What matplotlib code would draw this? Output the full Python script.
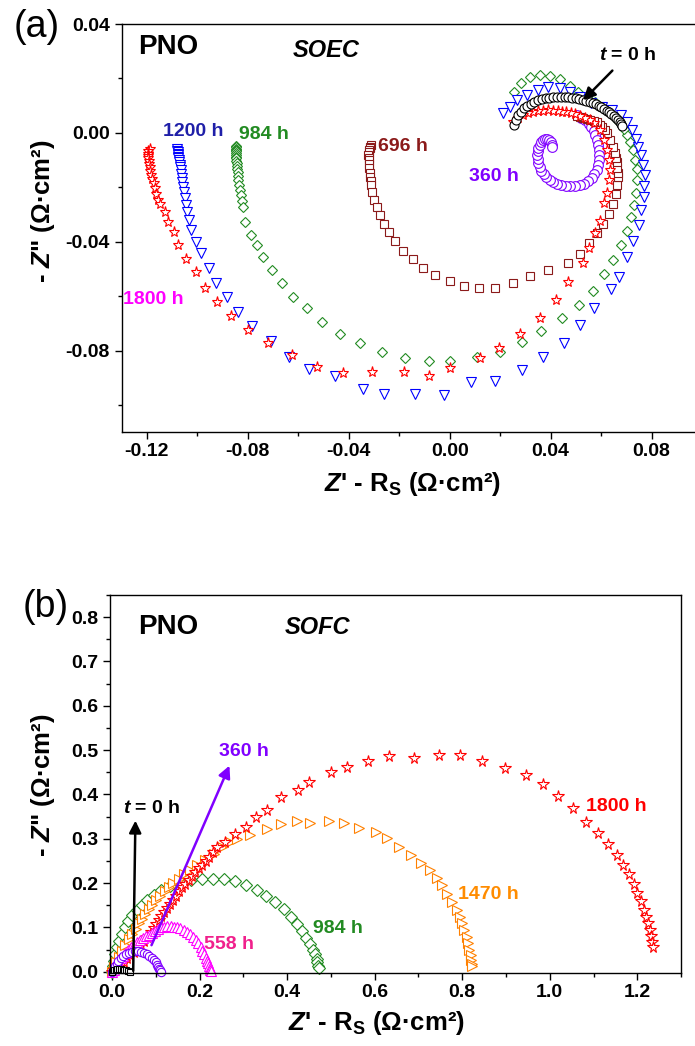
import numpy as np
import matplotlib
matplotlib.use("Agg")
import matplotlib.pyplot as plt
from matplotlib.ticker import MultipleLocator, FormatStrFormatter

plt.rcParams['font.family'] = ['Liberation Sans', 'DejaVu Sans']
plt.rcParams['font.weight'] = 'bold'
plt.rcParams['mathtext.fontset'] = 'custom'
plt.rcParams['mathtext.rm'] = 'Liberation Sans:bold'
plt.rcParams['mathtext.it'] = 'Liberation Sans:italic:bold'
plt.rcParams['mathtext.bf'] = 'Liberation Sans:bold'

# ---------------- (a) SOEC data : (Z' - Rs, -Z'') ----------------
a_t0 = np.array([
    (0.0253, 0.0028), (0.0262, 0.0048), (0.0272, 0.0064), (0.0283, 0.0078), (0.0295, 0.0090),
    (0.0308, 0.0100), (0.0322, 0.0108), (0.0336, 0.0115), (0.0350, 0.0120), (0.0365, 0.0124),
    (0.0380, 0.0127), (0.0395, 0.0130), (0.0410, 0.0131), (0.0425, 0.0132), (0.0440, 0.0132),
    (0.0455, 0.0132), (0.0470, 0.0131), (0.0485, 0.0130), (0.0500, 0.0128), (0.0514, 0.0125),
    (0.0528, 0.0122), (0.0541, 0.0118), (0.0554, 0.0114), (0.0566, 0.0110), (0.0578, 0.0105),
    (0.0590, 0.0100), (0.0601, 0.0094), (0.0612, 0.0088), (0.0622, 0.0082), (0.0632, 0.0075),
    (0.0641, 0.0068), (0.0650, 0.0061), (0.0658, 0.0054), (0.0666, 0.0047), (0.0673, 0.0040),
    (0.0679, 0.0032), (0.0683, 0.0025)])

a_360 = np.array([
    (0.0506, 0.0065), (0.0522, 0.0056), (0.0537, 0.0046), (0.0550, 0.0034), (0.0561, 0.0021),
    (0.0570, 0.0007), (0.0577, -0.0008), (0.0584, -0.0026), (0.0589, -0.0045), (0.0592, -0.0063),
    (0.0593, -0.0082), (0.0592, -0.0100), (0.0589, -0.0118), (0.0582, -0.0135), (0.0573, -0.0151),
    (0.0562, -0.0165), (0.0549, -0.0177), (0.0534, -0.0186), (0.0517, -0.0192), (0.0498, -0.0195),
    (0.0478, -0.0196), (0.0460, -0.0195), (0.0442, -0.0192), (0.0426, -0.0187), (0.0411, -0.0181),
    (0.0396, -0.0173), (0.0383, -0.0163), (0.0372, -0.0152), (0.0363, -0.0141), (0.0356, -0.0126),
    (0.0351, -0.0111), (0.0348, -0.0097), (0.0347, -0.0082), (0.0348, -0.0068), (0.0351, -0.0056),
    (0.0356, -0.0044), (0.0363, -0.0034), (0.0371, -0.0027), (0.0379, -0.0023), (0.0387, -0.0022),
    (0.0395, -0.0027), (0.0401, -0.0034), (0.0405, -0.0043), (0.0407, -0.0052)])

a_696 = np.array([
    (-0.0311, -0.0045), (-0.0314, -0.0050), (-0.0317, -0.0056), (-0.0320, -0.0063), (-0.0321, -0.0072),
    (-0.0322, -0.0082), (-0.0321, -0.0091), (-0.0321, -0.0100), (-0.0320, -0.0115), (-0.0319, -0.0130),
    (-0.0317, -0.0146), (-0.0316, -0.0161), (-0.0313, -0.0177), (-0.0311, -0.0192), (-0.0308, -0.0218),
    (-0.0301, -0.0247), (-0.0290, -0.0272), (-0.0277, -0.0302), (-0.0261, -0.0333), (-0.0242, -0.0363),
    (-0.0215, -0.0397), (-0.0185, -0.0433), (-0.0145, -0.0465), (-0.0105, -0.0495), (-0.0057, -0.0522),
    (0.0000, -0.0544), (0.0058, -0.0562), (0.0118, -0.0570), (0.0181, -0.0571), (0.0252, -0.0552),
    (0.0320, -0.0526), (0.0391, -0.0504), (0.0470, -0.0478), (0.0517, -0.0445), (0.0553, -0.0405),
    (0.0585, -0.0368), (0.0609, -0.0335), (0.0632, -0.0298), (0.0648, -0.0262), (0.0660, -0.0225),
    (0.0664, -0.0192), (0.0668, -0.0163), (0.0666, -0.0146), (0.0664, -0.0130), (0.0664, -0.0108),
    (0.0660, -0.0092), (0.0656, -0.0075), (0.0648, -0.0052), (0.0636, -0.0027), (0.0624, -0.0001),
    (0.0614, 0.0010), (0.0604, 0.0021), (0.0594, 0.0030), (0.0585, 0.0039), (0.0571, 0.0043),
    (0.0557, 0.0047), (0.0543, 0.0051), (0.0529, 0.0054), (0.0515, 0.0058), (0.0505, 0.0061)])

a_984 = np.array([
    (-0.0846, -0.0048), (-0.0847, -0.0053), (-0.0847, -0.0058), (-0.0847, -0.0063), (-0.0847, -0.0068),
    (-0.0846, -0.0074), (-0.0846, -0.0080), (-0.0845, -0.0087), (-0.0845, -0.0094), (-0.0845, -0.0102),
    (-0.0844, -0.0111), (-0.0843, -0.0121), (-0.0842, -0.0132), (-0.0840, -0.0145), (-0.0839, -0.0159),
    (-0.0837, -0.0174), (-0.0835, -0.0190), (-0.0832, -0.0208), (-0.0828, -0.0228), (-0.0824, -0.0250),
    (-0.0818, -0.0274), (-0.0813, -0.0326), (-0.0786, -0.0375), (-0.0765, -0.0412), (-0.0739, -0.0457),
    (-0.0703, -0.0504), (-0.0664, -0.0551), (-0.0620, -0.0602), (-0.0567, -0.0644), (-0.0505, -0.0696),
    (-0.0436, -0.0739), (-0.0354, -0.0773), (-0.0268, -0.0806), (-0.0179, -0.0826), (-0.0083, -0.0838),
    (0.0003, -0.0838), (0.0109, -0.0822), (0.0201, -0.0804), (0.0288, -0.0768), (0.0363, -0.0728),
    (0.0445, -0.0681), (0.0511, -0.0632), (0.0566, -0.0580), (0.0610, -0.0519), (0.0649, -0.0467),
    (0.0679, -0.0412), (0.0703, -0.0360), (0.0718, -0.0308), (0.0729, -0.0265), (0.0739, -0.0222),
    (0.0744, -0.0174), (0.0742, -0.0134), (0.0735, -0.0100), (0.0726, -0.0063), (0.0716, -0.0033),
    (0.0703, -0.0008), (0.0689, 0.0016), (0.0668, 0.0043), (0.0640, 0.0069), (0.0609, 0.0091),
    (0.0577, 0.0113), (0.0545, 0.0131), (0.0510, 0.0149), (0.0478, 0.0171), (0.0438, 0.0197),
    (0.0399, 0.0210), (0.0359, 0.0212), (0.0320, 0.0204), (0.0284, 0.0182), (0.0256, 0.0149)])

a_1200 = np.array([
    (-0.1080, -0.0060), (-0.1079, -0.0066), (-0.1078, -0.0071), (-0.1077, -0.0077), (-0.1077, -0.0082),
    (-0.1076, -0.0088), (-0.1075, -0.0094), (-0.1073, -0.0100), (-0.1072, -0.0108), (-0.1070, -0.0117),
    (-0.1068, -0.0127), (-0.1066, -0.0138), (-0.1064, -0.0150), (-0.1062, -0.0164), (-0.1059, -0.0180),
    (-0.1056, -0.0198), (-0.1053, -0.0217), (-0.1049, -0.0240), (-0.1045, -0.0265), (-0.1040, -0.0290),
    (-0.1034, -0.0320), (-0.1024, -0.0357), (-0.1004, -0.0402), (-0.0984, -0.0440), (-0.0954, -0.0495),
    (-0.0925, -0.0551), (-0.0884, -0.0604), (-0.0840, -0.0657), (-0.0782, -0.0709), (-0.0710, -0.0763),
    (-0.0635, -0.0824), (-0.0558, -0.0868), (-0.0455, -0.0892), (-0.0343, -0.0941), (-0.0259, -0.0960),
    (-0.0136, -0.0960), (-0.0024, -0.0963), (0.0085, -0.0914), (0.0181, -0.0911), (0.0288, -0.0871),
    (0.0371, -0.0823), (0.0454, -0.0773), (0.0518, -0.0706), (0.0573, -0.0642), (0.0639, -0.0575),
    (0.0669, -0.0528), (0.0703, -0.0455), (0.0726, -0.0396), (0.0751, -0.0339), (0.0759, -0.0284),
    (0.0768, -0.0235), (0.0771, -0.0196), (0.0772, -0.0155), (0.0766, -0.0119), (0.0759, -0.0082),
    (0.0748, -0.0051), (0.0739, -0.0021), (0.0722, 0.0010), (0.0703, 0.0040), (0.0680, 0.0065),
    (0.0644, 0.0083), (0.0605, 0.0094), (0.0561, 0.0109), (0.0518, 0.0131), (0.0478, 0.0149),
    (0.0438, 0.0166), (0.0391, 0.0168), (0.0351, 0.0157), (0.0308, 0.0138), (0.0268, 0.0120),
    (0.0240, 0.0094), (0.0212, 0.0072)])

a_1800 = np.array([
    (-0.1189, -0.0060), (-0.1195, -0.0068), (-0.1197, -0.0076), (-0.1197, -0.0084), (-0.1195, -0.0093),
    (-0.1193, -0.0103), (-0.1191, -0.0114), (-0.1189, -0.0126), (-0.1186, -0.0139), (-0.1182, -0.0153),
    (-0.1178, -0.0168), (-0.1173, -0.0185), (-0.1168, -0.0203), (-0.1162, -0.0225), (-0.1154, -0.0245),
    (-0.1146, -0.0262), (-0.1130, -0.0290), (-0.1118, -0.0328), (-0.1094, -0.0365), (-0.1075, -0.0412),
    (-0.1043, -0.0464), (-0.1007, -0.0511), (-0.0968, -0.0570), (-0.0921, -0.0621), (-0.0865, -0.0673),
    (-0.0798, -0.0724), (-0.0719, -0.0772), (-0.0624, -0.0816), (-0.0525, -0.0860), (-0.0422, -0.0882),
    (-0.0307, -0.0878), (-0.0180, -0.0878), (-0.0084, -0.0893), (0.0003, -0.0864), (0.0121, -0.0827),
    (0.0197, -0.0790), (0.0280, -0.0739), (0.0359, -0.0680), (0.0422, -0.0614), (0.0470, -0.0548),
    (0.0529, -0.0478), (0.0553, -0.0423), (0.0577, -0.0368), (0.0597, -0.0324), (0.0613, -0.0258),
    (0.0624, -0.0221), (0.0632, -0.0174), (0.0636, -0.0137), (0.0632, -0.0100), (0.0624, -0.0063),
    (0.0613, -0.0027), (0.0597, 0.0010), (0.0573, 0.0036), (0.0555, 0.0046), (0.0537, 0.0054),
    (0.0518, 0.0062), (0.0498, 0.0069), (0.0480, 0.0073), (0.0462, 0.0076), (0.0446, 0.0078),
    (0.0430, 0.0080), (0.0410, 0.0082), (0.0391, 0.0083), (0.0371, 0.0082), (0.0351, 0.0080),
    (0.0331, 0.0077), (0.0312, 0.0072), (0.0292, 0.0064), (0.0272, 0.0054), (0.0252, 0.0039)])

# ---------------- (b) SOFC data ----------------
b_t0 = np.array([
    (0.000, 0.000), (0.004, 0.003), (0.008, 0.005), (0.012, 0.006), (0.016, 0.006), (0.020, 0.006),
    (0.024, 0.005), (0.028, 0.004), (0.032, 0.003), (0.036, 0.001), (0.040, 0.000)])

b_360 = np.array([
    (0.000, 0.000), (0.003, 0.006), (0.006, 0.012), (0.010, 0.018), (0.014, 0.024), (0.019, 0.030),
    (0.025, 0.035), (0.031, 0.039), (0.038, 0.042), (0.045, 0.045), (0.052, 0.046), (0.059, 0.046),
    (0.066, 0.045), (0.073, 0.043), (0.079, 0.040), (0.085, 0.036), (0.090, 0.031), (0.095, 0.026),
    (0.099, 0.021), (0.102, 0.016), (0.105, 0.011), (0.108, 0.007), (0.110, 0.003), (0.112, 0.000)])

b_558 = np.array([
    (0.000, 0.000), (0.003, 0.005), (0.006, 0.011), (0.010, 0.017), (0.014, 0.023), (0.019, 0.030),
    (0.024, 0.036), (0.030, 0.043), (0.036, 0.049), (0.042, 0.055), (0.049, 0.061), (0.056, 0.067),
    (0.063, 0.072), (0.070, 0.077), (0.077, 0.081), (0.084, 0.084), (0.091, 0.088), (0.098, 0.093),
    (0.105, 0.097), (0.112, 0.100), (0.119, 0.102), (0.126, 0.103), (0.134, 0.103), (0.142, 0.102),
    (0.149, 0.100), (0.156, 0.098), (0.164, 0.094), (0.171, 0.090), (0.178, 0.085), (0.185, 0.079),
    (0.191, 0.072), (0.197, 0.064), (0.202, 0.056), (0.206, 0.048), (0.210, 0.040), (0.214, 0.032),
    (0.217, 0.025), (0.219, 0.019), (0.221, 0.013), (0.223, 0.008), (0.224, 0.004), (0.225, 0.001)])

b_984 = np.array([
    (0.000, 0.000), (0.002, 0.012), (0.004, 0.025), (0.007, 0.040), (0.011, 0.056), (0.016, 0.070),
    (0.022, 0.085), (0.029, 0.100), (0.037, 0.114), (0.046, 0.127), (0.056, 0.139), (0.067, 0.151),
    (0.080, 0.162), (0.095, 0.173), (0.112, 0.184), (0.132, 0.193), (0.155, 0.200), (0.180, 0.206),
    (0.205, 0.209), (0.230, 0.210), (0.255, 0.209), (0.280, 0.204), (0.305, 0.196), (0.330, 0.185),
    (0.352, 0.172), (0.373, 0.157), (0.392, 0.141), (0.408, 0.124), (0.422, 0.108), (0.434, 0.092),
    (0.444, 0.076), (0.452, 0.062), (0.458, 0.050), (0.463, 0.039), (0.467, 0.029), (0.469, 0.021),
    (0.471, 0.014), (0.472, 0.008)])

b_1470 = np.array([
    (0.000, 0.000), (0.004, 0.011), (0.009, 0.022), (0.015, 0.034), (0.022, 0.047), (0.030, 0.060),
    (0.038, 0.073), (0.046, 0.086), (0.054, 0.097), (0.061, 0.109), (0.069, 0.120), (0.076, 0.131),
    (0.084, 0.141), (0.091, 0.150), (0.100, 0.161), (0.110, 0.172), (0.120, 0.182), (0.129, 0.191),
    (0.140, 0.201), (0.152, 0.210), (0.165, 0.220), (0.178, 0.229), (0.194, 0.240), (0.212, 0.252),
    (0.232, 0.265), (0.251, 0.281), (0.270, 0.292), (0.286, 0.300), (0.316, 0.309), (0.354, 0.322),
    (0.385, 0.333), (0.423, 0.340), (0.453, 0.335), (0.495, 0.340), (0.529, 0.335), (0.564, 0.325),
    (0.602, 0.315), (0.628, 0.302), (0.655, 0.282), (0.682, 0.264), (0.706, 0.246), (0.726, 0.229),
    (0.743, 0.211), (0.754, 0.195), (0.766, 0.176), (0.777, 0.157), (0.787, 0.140), (0.795, 0.124),
    (0.800, 0.109), (0.805, 0.094), (0.810, 0.079), (0.813, 0.064), (0.816, 0.049), (0.819, 0.037),
    (0.821, 0.026), (0.822, 0.018), (0.823, 0.012)])

b_1800 = np.array([
    (0.000, 0.000), (0.004, 0.004), (0.011, 0.010), (0.019, 0.015), (0.026, 0.022), (0.034, 0.030),
    (0.041, 0.037), (0.049, 0.045), (0.057, 0.052), (0.065, 0.060), (0.072, 0.070), (0.080, 0.079),
    (0.088, 0.089), (0.095, 0.098), (0.101, 0.107), (0.107, 0.116), (0.112, 0.126), (0.118, 0.135),
    (0.125, 0.145), (0.132, 0.154), (0.138, 0.163), (0.145, 0.172), (0.152, 0.182), (0.160, 0.191),
    (0.167, 0.198), (0.175, 0.206), (0.182, 0.216), (0.190, 0.225), (0.198, 0.233), (0.206, 0.240),
    (0.214, 0.250), (0.221, 0.259), (0.231, 0.270), (0.240, 0.281), (0.257, 0.293), (0.280, 0.311),
    (0.305, 0.327), (0.329, 0.350), (0.353, 0.365), (0.386, 0.394), (0.425, 0.411), (0.450, 0.427),
    (0.501, 0.451), (0.537, 0.461), (0.584, 0.475), (0.633, 0.487), (0.689, 0.482), (0.747, 0.489),
    (0.794, 0.488), (0.846, 0.476), (0.897, 0.459), (0.945, 0.444), (0.985, 0.423), (1.019, 0.397),
    (1.052, 0.369), (1.082, 0.339), (1.110, 0.313), (1.134, 0.289), (1.153, 0.264), (1.168, 0.241),
    (1.181, 0.220), (1.192, 0.199), (1.200, 0.178), (1.208, 0.160), (1.215, 0.140), (1.221, 0.124),
    (1.225, 0.109), (1.229, 0.094), (1.232, 0.080), (1.234, 0.067), (1.236, 0.055)])

fig = plt.figure(figsize=(6.95, 10.46), dpi=100)
ax1 = fig.add_axes([0.175, 0.5873, 0.825, 0.3897])
ax2 = fig.add_axes([0.1583, 0.0701, 0.8216, 0.3611])


def style_axis(ax):
    for s in ax.spines.values():
        s.set_linewidth(1.0)
    ax.tick_params(which='both', direction='out', top=False, right=False, width=1.0,
                   labelsize=14)
    ax.tick_params(which='major', length=5)
    ax.tick_params(which='minor', length=3)
    for lab in ax.get_xticklabels() + ax.get_yticklabels():
        lab.set_fontweight('bold')


def nyquist(ax, d, marker, color, ms, mew=0.8):
    ax.plot(d[:, 0], d[:, 1], linestyle='none', marker=marker, ms=ms,
            mfc='white', mec=color, mew=mew, clip_on=False)


# ---- panel (a)
nyquist(ax1, a_360, 'o', '#8000FF', 7)
nyquist(ax1, a_696, 's', '#8B1A1A', 5.5)
nyquist(ax1, a_984, 'D', '#228B22', 5.5)
nyquist(ax1, a_1200, 'v', '#0000FF', 7)
nyquist(ax1, a_1800, '*', '#FF0000', 8)
nyquist(ax1, a_t0, 'o', '#000000', 6.5)

ax1.set_xlim(-0.13, 0.0972)
ax1.set_ylim(-0.1098, 0.04)
ax1.xaxis.set_major_locator(MultipleLocator(0.04))
ax1.xaxis.set_minor_locator(MultipleLocator(0.02))
ax1.yaxis.set_major_locator(MultipleLocator(0.04))
ax1.yaxis.set_minor_locator(MultipleLocator(0.02))
ax1.xaxis.set_major_formatter(FormatStrFormatter('%.2f'))
ax1.yaxis.set_major_formatter(FormatStrFormatter('%.2f'))
ax1.spines['right'].set_visible(False)
style_axis(ax1)
ax1.set_xlabel("$\\it{Z}$' - R$_{\\rm S}$ (Ω·cm²)", fontsize=18.5, fontweight='bold')
ax1.set_ylabel('- $\\it{Z}$" (Ω·cm²)', fontsize=18.5, fontweight='bold')
ax1.xaxis.set_label_coords(0.508, -0.095)
ax1.yaxis.set_label_coords(-0.113, 0.54)

ax1.text(0.081, 0.944, 'PNO', transform=ax1.transAxes, fontsize=20, fontweight='bold',
         ha='center', va='center')
ax1.text(0.356, 0.936, 'SOEC', transform=ax1.transAxes, fontsize=17, fontweight='bold',
         style='italic', ha='center', va='center')
ax1.text(-0.1015, 0.0006, '1200 h', color='#1F1FA8', fontsize=14, fontweight='bold', ha='center', va='center')
ax1.text(-0.0738, -0.0005, '984 h', color='#228B22', fontsize=14, fontweight='bold', ha='center', va='center')
ax1.text(-0.0187, -0.0049, '696 h', color='#8B1A1A', fontsize=14, fontweight='bold', ha='center', va='center')
ax1.text(0.0177, -0.0159, '360 h', color='#8000FF', fontsize=14, fontweight='bold', ha='center', va='center')
ax1.text(-0.1173, -0.0614, '1800 h', color='#FF00FF', fontsize=14, fontweight='bold', ha='center', va='center')
ax1.annotate('$\\it{t}$ = 0 h', xy=(0.0529, 0.0120), xytext=(0.0704, 0.0285),
             fontsize=14, fontweight='bold', ha='center', va='center',
             arrowprops=dict(arrowstyle='-|>', color='black', lw=1.8, mutation_scale=18,
                             shrinkA=4, shrinkB=0))

# ---- panel (b)
nyquist(ax2, b_984, 'D', '#228B22', 6)
nyquist(ax2, b_1470, '>', '#FF8000', 7.5)
nyquist(ax2, b_1800, '*', '#FF0000', 8.5)
nyquist(ax2, b_558, '^', '#FF00FF', 7)
nyquist(ax2, b_360, 'o', '#8000FF', 6)
nyquist(ax2, b_t0, 's', '#000000', 5)

ax2.set_xlim(-0.005, 1.30)
ax2.set_ylim(-0.002, 0.85)
ax2.xaxis.set_major_locator(MultipleLocator(0.2))
ax2.xaxis.set_minor_locator(MultipleLocator(0.1))
ax2.yaxis.set_major_locator(MultipleLocator(0.1))
ax2.yaxis.set_minor_locator(MultipleLocator(0.05))
ax2.xaxis.set_major_formatter(FormatStrFormatter('%.1f'))
ax2.yaxis.set_major_formatter(FormatStrFormatter('%.1f'))
style_axis(ax2)
ax2.set_xlabel("$\\it{Z}$' - R$_{\\rm S}$ (Ω·cm²)", fontsize=18.5, fontweight='bold')
ax2.set_ylabel('- $\\it{Z}$" (Ω·cm²)', fontsize=18.5, fontweight='bold')
ax2.xaxis.set_label_coords(0.466, -0.097)
ax2.yaxis.set_label_coords(-0.093, 0.497)

ax2.text(0.1016, 0.915, 'PNO', transform=ax2.transAxes, fontsize=20, fontweight='bold',
         ha='center', va='center')
ax2.text(0.3625, 0.913, 'SOFC', transform=ax2.transAxes, fontsize=17, fontweight='bold',
         style='italic', ha='center', va='center')
ax2.text(0.266, 0.062, '558 h', color='#F0208C', fontsize=14, fontweight='bold', ha='center', va='center')
ax2.text(0.517, 0.098, '984 h', color='#228B22', fontsize=14, fontweight='bold', ha='center', va='center')
ax2.text(0.860, 0.175, '1470 h', color='#FF8C00', fontsize=14, fontweight='bold', ha='center', va='center')
ax2.text(1.151, 0.372, '1800 h', color='#FF0000', fontsize=14, fontweight='bold', ha='center', va='center')
ax2.text(0.300, 0.496, '360 h', color='#8000FF', fontsize=14, fontweight='bold', ha='center', va='center')
ax2.annotate('', xy=(0.268, 0.465), xytext=(0.0898, 0.060),
             arrowprops=dict(arrowstyle='-|>', color='#8000FF', lw=1.8, mutation_scale=18,
                             shrinkA=0, shrinkB=0))
ax2.text(0.0898, 0.368, '$\\it{t}$ = 0 h', fontsize=14, fontweight='bold', ha='center', va='center')
ax2.annotate('', xy=(0.053, 0.341), xytext=(0.048, 0.002),
             arrowprops=dict(arrowstyle='-|>', color='black', lw=1.8, mutation_scale=18,
                             shrinkA=0, shrinkB=0))

fig.text(0.053, 0.974, '(a)', fontsize=27, fontweight='normal', ha='center', va='center')
fig.text(0.066, 0.4197, '(b)', fontsize=27, fontweight='normal', ha='center', va='center')

fig.savefig('out.png', dpi=100)
